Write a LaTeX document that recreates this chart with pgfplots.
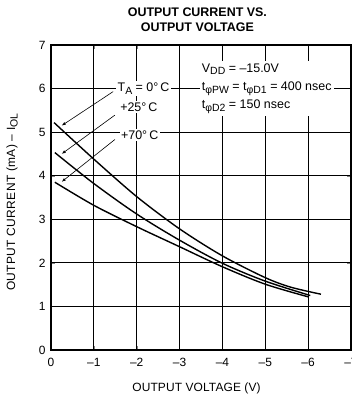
\documentclass[border=0pt]{standalone}
\usepackage{fontspec}
\setmainfont{Liberation Sans}
\usepackage{pgfplots}
\pgfplotsset{compat=1.18}
\usetikzlibrary{arrows.meta}
\newcommand\sub[1]{\raisebox{-0.4ex}{\fontsize{10.5}{10.5}\selectfont #1}}
\begin{document}
\begin{tikzpicture}
\path (0,0) rectangle (351bp,397bp);
\begin{axis}[
  at={(51bp,47bp)}, anchor=south west,
  scale only axis, width=300bp, height=305bp,
  x dir=reverse, xmin=-7, xmax=0, ymin=0, ymax=7,
  xtick={0,-1,-2,-3,-4,-5,-6,-7},
  xticklabels={0,–1,–2,–3,–4,–5,–6,{\makebox[0pt][r]{–}\rlap{7}}},
  ytick={0,1,2,3,4,5,6,7},
  yticklabels={0,1,2,3,4,5,6,7},
  axis line style={black, line width=1.6bp},
  tick label style={font=\fontsize{12}{13}\selectfont},
  xticklabel style={inner sep=0pt, yshift=-8bp},
  yticklabel style={xshift=-2bp},
  title={OUTPUT CURRENT VS.\\OUTPUT VOLTAGE},
  title style={at={(axis description cs:0.488,1.062)}, anchor=center, align=center,
    font=\bfseries\fontsize{12.5}{15}\selectfont},
  xlabel={OUTPUT VOLTAGE (V)},
  xlabel style={at={(axis description cs:0.485,-0.125)}, anchor=center,
    font=\addfontfeatures{LetterSpace=1}\fontsize{12}{13}\selectfont},
  ylabel={OUTPUT CURRENT (mA) – I\sub{OL}},
  ylabel style={at={(axis description cs:-0.13,0.485)}, anchor=center,
    font=\addfontfeatures{LetterSpace=3}\fontsize{12}{13}\selectfont},
]
\pgfplotsinvokeforeach{-1,-2,-3,-4,-5,-6}{\draw[black, line width=1.2bp] (axis cs:#1,0) -- (axis cs:#1,7);}
\pgfplotsinvokeforeach{1,2,3,4,5,6}{\draw[black, line width=1.2bp] (axis cs:0,#1) -- (axis cs:-7,#1);}
% T_A = 0 C
\addplot[black, line width=1.4bp, smooth, tension=0.5, no marks] coordinates {
 (-0.07,5.22) (-1,4.38) (-2,3.52) (-3,2.78) (-4,2.16) (-5,1.66) (-5.6,1.44) (-6.3,1.28)};
% +25 C
\addplot[black, line width=1.4bp, smooth, tension=0.5, no marks] coordinates {
 (-0.09,4.53) (-1,3.82) (-2,3.12) (-3,2.52) (-4,1.99) (-5,1.58) (-6.05,1.25)};
% +70 C
\addplot[black, line width=1.4bp, smooth, tension=0.5, no marks] coordinates {
 (-0.09,3.85) (-1,3.32) (-2,2.83) (-3,2.37) (-4,1.91) (-5,1.51) (-6.0,1.22)};

\draw[line width=0.6bp, -{Latex[length=4bp,width=3bp]}] (axis cs:-1.45,5.93) -- (axis cs:-0.25,5.15);
\draw[line width=0.6bp, -{Latex[length=4bp,width=3bp]}] (axis cs:-1.49,5.39) -- (axis cs:-0.25,4.50);
\draw[line width=0.6bp, -{Latex[length=4bp,width=3bp]}] (axis cs:-1.49,4.83) -- (axis cs:-0.25,3.86);

\node[fill=white, inner sep=1.5bp, font=\fontsize{12.5}{13}\selectfont] at (axis cs:-2.16,6.0) {T\sub{A} = 0°\,C};
\node[fill=white, inner sep=1.5bp, font=\fontsize{12.5}{13}\selectfont] at (axis cs:-2.05,5.57) {+25°\,C};
\node[fill=white, inner sep=1.5bp, font=\fontsize{12.5}{13}\selectfont] at (axis cs:-2.07,4.93) {+70°\,C};

\node[fill=white, inner sep=2bp, anchor=west, align=left, font=\fontsize{12.5}{18.5}\selectfont]
  at (axis cs:-3.47,6.0) {V\sub{DD} = –15.0V\\
  t\sub{φPW} = t\sub{φD1} = 400 nsec\\
  t\sub{φD2} = 150 nsec};
\end{axis}
\end{tikzpicture}
\end{document}
